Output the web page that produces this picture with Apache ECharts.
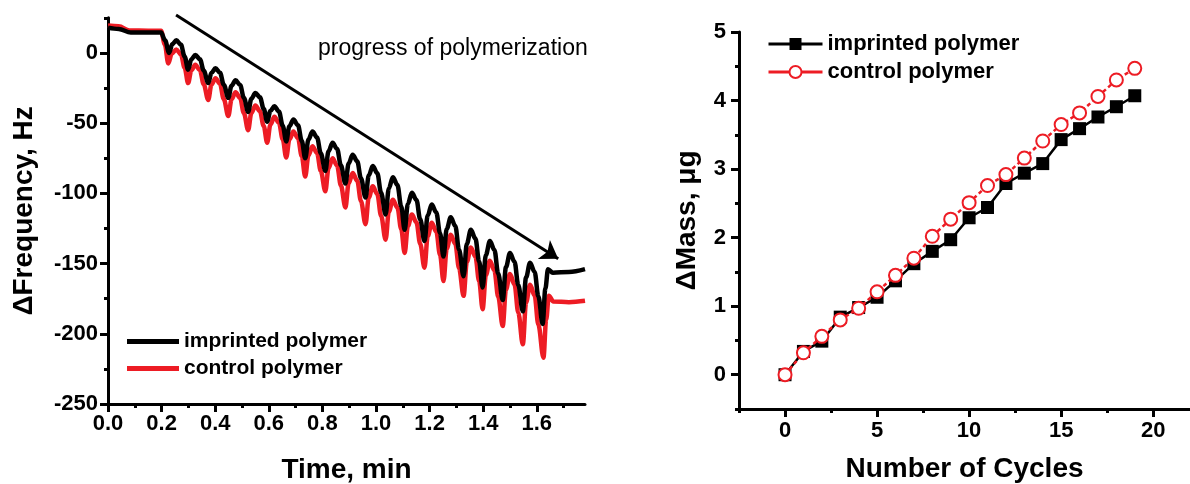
<!DOCTYPE html>
<html>
<head>
<meta charset="utf-8">
<script src="https://cdn.jsdelivr.net/npm/echarts@6.0.0/dist/echarts.min.js"></script>
<style>
  html, body { margin: 0; padding: 0; background: #fff; }
  #chart { width: 1190px; height: 484px; }
</style>
</head>
<body>
<div id="chart"></div>
<script>
// QCM frequency trace during polymerization: [time (min), ΔFrequency (Hz)]
const imprintedTrace = [
  [0.000, 18.0], [0.040, 17.0], [0.085, 14.5], [0.150, 14.5], [0.198, 14.5], [0.213, 9.0],
  [0.228, 0.0], [0.240, 6.3], [0.255, 9.0], [0.272, 5.9], [0.286, -2.6],
  [0.299, -12.0], [0.311, -4.6], [0.326, -1.5], [0.343, -4.5], [0.357, -12.5],
  [0.374, -21.5], [0.386, -14.2], [0.401, -11.0], [0.418, -14.2], [0.432, -22.6],
  [0.449, -32.0], [0.461, -23.3], [0.476, -19.5], [0.493, -22.9], [0.507, -31.9],
  [0.523, -42.0], [0.535, -32.6], [0.550, -28.5], [0.567, -31.6], [0.581, -39.8],
  [0.594, -49.0], [0.606, -41.3], [0.621, -38.0], [0.638, -41.8], [0.652, -51.8],
  [0.665, -63.0], [0.677, -52.2], [0.692, -47.5], [0.709, -51.6], [0.723, -62.6],
  [0.736, -75.0], [0.748, -61.7], [0.763, -56.0], [0.780, -60.2], [0.794, -71.4],
  [0.811, -84.0], [0.823, -70.0], [0.838, -64.0], [0.855, -68.4], [0.869, -80.0],
  [0.886, -93.0], [0.898, -78.7], [0.913, -72.5], [0.930, -77.1], [0.944, -89.3],
  [0.961, -103.0], [0.973, -87.3], [0.988, -80.5], [1.005, -85.7], [1.019, -99.5],
  [1.036, -115.0], [1.048, -96.5], [1.063, -88.5], [1.080, -94.1], [1.094, -109.1],
  [1.107, -126.0], [1.119, -107.5], [1.134, -99.5], [1.151, -104.7], [1.165, -118.5],
  [1.181, -134.0], [1.193, -115.8], [1.208, -108.0], [1.225, -113.6], [1.239, -128.4],
  [1.252, -145.0], [1.264, -125.4], [1.279, -117.0], [1.296, -123.3], [1.310, -140.1],
  [1.327, -159.0], [1.339, -135.9], [1.354, -126.0], [1.371, -132.2], [1.385, -148.6],
  [1.398, -167.0], [1.410, -143.9], [1.425, -134.0], [1.442, -140.3], [1.456, -157.1],
  [1.473, -176.0], [1.485, -152.6], [1.500, -142.5], [1.517, -148.7], [1.531, -165.3],
  [1.548, -184.0], [1.560, -159.9], [1.575, -149.5], [1.592, -156.0], [1.606, -173.4],
  [1.622, -193.0], [1.632, -168.0], [1.642, -154.0], [1.660, -156.5], [1.720, -156.0], [1.780, -154.0]
];
const controlTrace = [
  [0.000, 19.5], [0.040, 19.0], [0.080, 16.0], [0.150, 15.8], [0.198, 15.8], [0.212, 6.0],
  [0.225, -7.5], [0.238, -0.5], [0.255, 2.5], [0.272, -1.1], [0.286, -10.7],
  [0.299, -21.5], [0.311, -12.4], [0.326, -8.5], [0.343, -12.3], [0.357, -22.3],
  [0.374, -33.5], [0.386, -22.7], [0.401, -18.0], [0.418, -22.1], [0.432, -32.9],
  [0.449, -45.0], [0.461, -33.1], [0.476, -28.0], [0.493, -32.1], [0.507, -42.9],
  [0.523, -55.0], [0.535, -42.8], [0.550, -37.5], [0.567, -41.5], [0.581, -52.1],
  [0.594, -64.0], [0.606, -51.1], [0.621, -45.5], [0.638, -49.9], [0.652, -61.5],
  [0.665, -74.5], [0.677, -61.6], [0.692, -56.0], [0.709, -60.8], [0.723, -73.6],
  [0.736, -88.0], [0.748, -73.0], [0.763, -66.5], [0.780, -71.3], [0.794, -84.1],
  [0.811, -98.5], [0.823, -82.1], [0.838, -75.0], [0.855, -80.3], [0.869, -94.3],
  [0.886, -110.0], [0.898, -92.9], [0.913, -85.5], [0.930, -91.0], [0.944, -105.6],
  [0.961, -122.0], [0.973, -103.1], [0.988, -95.0], [1.005, -100.7], [1.019, -115.9],
  [1.036, -133.0], [1.048, -113.1], [1.063, -104.5], [1.080, -110.2], [1.094, -125.4],
  [1.107, -142.5], [1.119, -123.3], [1.134, -115.0], [1.151, -120.7], [1.165, -135.9],
  [1.181, -153.0], [1.193, -130.6], [1.208, -121.0], [1.225, -127.2], [1.239, -143.8],
  [1.252, -162.5], [1.264, -139.4], [1.279, -129.5], [1.296, -136.0], [1.310, -153.4],
  [1.327, -173.0], [1.339, -148.9], [1.354, -138.5], [1.371, -145.1], [1.385, -162.7],
  [1.398, -182.5], [1.410, -158.4], [1.425, -148.0], [1.442, -155.0], [1.456, -173.6],
  [1.473, -194.5], [1.485, -168.6], [1.500, -157.5], [1.517, -165.0], [1.531, -185.0],
  [1.548, -207.5], [1.560, -177.8], [1.575, -165.0], [1.592, -172.8], [1.606, -193.6],
  [1.625, -217.0], [1.635, -190.0], [1.645, -173.0], [1.662, -177.0], [1.720, -177.5], [1.780, -176.5]
];
// arrow "progress of polymerization": [time, ΔFrequency] from tail to head
const progressArrow = [[0.254, 27], [1.680, -146.5]];

// Deposited mass per deposition cycle (μg)
const cycles = [0, 1, 2, 3, 4, 5, 6, 7, 8, 9, 10, 11, 12, 13, 14, 15, 16, 17, 18, 19];
const massImprinted = [0.00, 0.34, 0.49, 0.84, 0.98, 1.13, 1.37, 1.62, 1.80, 1.97, 2.29, 2.44, 2.79, 2.94, 3.08, 3.43, 3.59, 3.76, 3.91, 4.07];
const massControl   = [0.00, 0.32, 0.56, 0.80, 0.97, 1.21, 1.45, 1.70, 2.02, 2.27, 2.51, 2.76, 2.92, 3.16, 3.41, 3.65, 3.82, 4.06, 4.30, 4.47];

// Tick positions
const timeMajor = [0, 0.2, 0.4, 0.6, 0.8, 1.0, 1.2, 1.4, 1.6];
const timeMinor = [0.1, 0.3, 0.5, 0.7, 0.9, 1.1, 1.3, 1.5, 1.7];
const freqMajor = [-250, -200, -150, -100, -50, 0];
const freqMinor = [-225, -175, -125, -75, -25, 25];
const cycleMajor = [0, 5, 10, 15, 20];
const cycleMinor = [-2.5, 2.5, 7.5, 12.5, 17.5];
const massMajor = [0, 1, 2, 3, 4, 5];
const massMinor = [-0.5, 0.5, 1.5, 2.5, 3.5, 4.5];

const FONT = "'Liberation Sans', Arial, Helvetica, sans-serif";
const RED = '#ed1c24';
const BLACK = '#000000';

const legendNames = {
  'imprinted polymer': 'imprinted polymer',
  'control polymer': 'control polymer',
  'imprinted mass': 'imprinted polymer',
  'control mass': 'control polymer'
};

function mainAxis(grid, dim, min, max, major, fmt, name, nameGap, labelMargin) {
  return {
    gridIndex: grid, type: 'value', min: min, max: max,
    position: dim === 'x' ? 'bottom' : 'left',
    name: name, nameLocation: 'middle', nameGap: nameGap,
    nameTextStyle: { fontFamily: FONT, fontSize: 28, fontWeight: 'bold', color: BLACK },
    axisLine: { show: true, onZero: false, lineStyle: { color: BLACK, width: 3 } },
    axisTick: { show: true, customValues: major, length: 8, lineStyle: { color: BLACK, width: 3 } },
    axisLabel: { show: true, customValues: major, formatter: fmt, margin: labelMargin,
      fontFamily: FONT, fontSize: 22, fontWeight: 'bold', color: BLACK },
    splitLine: { show: false }
  };
}
function minorAxis(grid, dim, min, max, minor) {
  return {
    gridIndex: grid, type: 'value', min: min, max: max,
    position: dim === 'x' ? 'bottom' : 'left',
    axisLine: { show: false, onZero: false },
    axisTick: { show: true, customValues: minor, length: 4, lineStyle: { color: BLACK, width: 3 } },
    axisLabel: { show: false },
    splitLine: { show: false }
  };
}

const chart = echarts.init(document.getElementById('chart'), null, { renderer: 'canvas' });
chart.setOption({
  animation: false,
  backgroundColor: '#ffffff',
  grid: [
    { left: 108, top: 17.8, width: 477, height: 386.2, outerBoundsMode: 'none', containLabel: false },
    { left: 739, top: 32, width: 451, height: 377, outerBoundsMode: 'none', containLabel: false }
  ],
  xAxis: [
    mainAxis(0, 'x', 0, 1.78, timeMajor, v => v.toFixed(1), 'Time, min', 52, 9),
    minorAxis(0, 'x', 0, 1.78, timeMinor),
    mainAxis(1, 'x', -2.5, 22, cycleMajor, v => String(v), 'Number of Cycles', 46, 11),
    minorAxis(1, 'x', -2.5, 22, cycleMinor)
  ],
  yAxis: [
    mainAxis(0, 'y', -250, 25, freqMajor, v => String(v), 'ΔFrequency, Hz', 70, 10),
    minorAxis(0, 'y', -250, 25, freqMinor),
    mainAxis(1, 'y', -0.5, 5, massMajor, v => String(v), 'ΔMass, μg', 38, 13),
    minorAxis(1, 'y', -0.5, 5, massMinor)
  ],
  legend: [
    {
      data: ['imprinted polymer', 'control polymer'],
      orient: 'vertical', left: 122, top: 326, itemGap: 6,
      icon: 'rect', itemWidth: 52, itemHeight: 5,
      formatter: n => legendNames[n],
      textStyle: { fontFamily: FONT, fontSize: 21, fontWeight: 'bold', color: BLACK },
      selectedMode: false
    },
    {
      data: ['imprinted mass', 'control mass'],
      orient: 'vertical', left: 762, top: 28, itemGap: 6,
      itemWidth: 54, itemHeight: 15,
      lineStyle: { type: 'solid', width: 3 },
      formatter: n => legendNames[n],
      textStyle: { fontFamily: FONT, fontSize: 22, fontWeight: 'bold', color: BLACK },
      selectedMode: false
    }
  ],
  graphic: [
    {
      type: 'text', left: 318, top: 37, silent: true,
      style: { text: 'progress of polymerization', fill: BLACK,
        font: "23px 'Liberation Sans', Arial, sans-serif" }
    }
  ],
  series: [
    {
      name: 'control polymer', type: 'line', xAxisIndex: 0, yAxisIndex: 0,
      data: controlTrace, showSymbol: false, symbol: 'none',
      smooth: 0.35, smoothMonotone: 'x',
      itemStyle: { color: RED },
      lineStyle: { color: RED, width: 4.5 }, z: 2
    },
    {
      name: 'imprinted polymer', type: 'line', xAxisIndex: 0, yAxisIndex: 0,
      data: imprintedTrace, showSymbol: false, symbol: 'none',
      smooth: 0.35, smoothMonotone: 'x',
      itemStyle: { color: BLACK },
      lineStyle: { color: BLACK, width: 4.5 }, z: 3
    },
    {
      type: 'lines', coordinateSystem: 'cartesian2d', xAxisIndex: 0, yAxisIndex: 0,
      clip: false, silent: true,
      symbol: ['none', 'arrow'], symbolSize: 17,
      lineStyle: { color: BLACK, width: 3, opacity: 1 },
      data: [{ coords: progressArrow }], z: 4
    },
    {
      name: 'imprinted mass', type: 'line', xAxisIndex: 2, yAxisIndex: 2,
      data: cycles.map((c, i) => [c, massImprinted[i]]),
      symbol: 'rect', symbolSize: 13,
      itemStyle: { color: BLACK },
      lineStyle: { color: BLACK, width: 2.5 }, z: 2
    },
    {
      name: 'control mass', type: 'line', xAxisIndex: 2, yAxisIndex: 2,
      data: cycles.map((c, i) => [c, massControl[i]]),
      symbol: 'circle', symbolSize: 13,
      itemStyle: { color: '#ffffff', borderColor: RED, borderWidth: 2 },
      lineStyle: { color: RED, width: 2.5, type: [4, 3] }, z: 3
    }
  ]
});
</script>
</body>
</html>
